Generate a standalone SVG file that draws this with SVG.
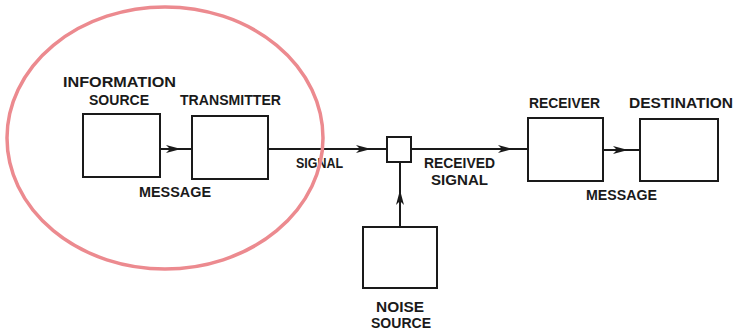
<svg xmlns="http://www.w3.org/2000/svg" width="737" height="331" viewBox="0 0 737 331">
<defs>
<style>
.box{fill:none;stroke:#1a1a1a;stroke-width:2}
.ln{fill:none;stroke:#1a1a1a;stroke-width:2}
.t{font-family:"Liberation Sans",Arial,sans-serif;font-weight:bold;font-size:14px;fill:#1a1a1a}
</style>
<marker id="ah" markerWidth="16" markerHeight="10" refX="15" refY="5" orient="auto" markerUnits="userSpaceOnUse">
<path d="M0,1 L15,5 L0,9 L4,5 Z" fill="#1a1a1a"/>
</marker>
</defs>
<rect width="737" height="331" fill="#ffffff"/>
<g id="connectors">
<line class="ln" x1="160" y1="149" x2="181" y2="149" marker-end="url(#ah)"/>
<line class="ln" x1="181" y1="149" x2="192" y2="149"/>
<line class="ln" x1="268" y1="149" x2="371" y2="149" marker-end="url(#ah)"/>
<line class="ln" x1="371" y1="149" x2="387" y2="149"/>
<line class="ln" x1="411" y1="149" x2="513" y2="149" marker-end="url(#ah)"/>
<line class="ln" x1="513" y1="149" x2="528" y2="149"/>
<line class="ln" x1="603" y1="150" x2="628" y2="150" marker-end="url(#ah)"/>
<line class="ln" x1="628" y1="150" x2="640" y2="150"/>
<line class="ln" x1="400" y1="227" x2="400" y2="190" marker-end="url(#ah)"/>
<line class="ln" x1="400" y1="190" x2="400" y2="162"/>
</g>
<g id="info-source">
<rect class="box" x="83" y="114" width="77" height="63"/>
<text class="t" x="63" y="87" textLength="113" lengthAdjust="spacingAndGlyphs">INFORMATION</text>
<text class="t" x="89" y="105" textLength="60" lengthAdjust="spacingAndGlyphs">SOURCE</text>
</g>
<g id="transmitter">
<rect class="box" x="192" y="116" width="76" height="63"/>
<text class="t" x="180" y="105" textLength="101" lengthAdjust="spacingAndGlyphs">TRANSMITTER</text>
</g>
<g id="mixer">
<rect class="box" x="387" y="137" width="24" height="25"/>
</g>
<g id="noise-source">
<rect class="box" x="363" y="227" width="74" height="61"/>
<text class="t" x="376" y="312" textLength="48" lengthAdjust="spacingAndGlyphs">NOISE</text>
<text class="t" x="371" y="328" textLength="60" lengthAdjust="spacingAndGlyphs">SOURCE</text>
</g>
<g id="receiver">
<rect class="box" x="528" y="118" width="75" height="63"/>
<text class="t" x="529" y="108" textLength="71" lengthAdjust="spacingAndGlyphs">RECEIVER</text>
</g>
<g id="destination">
<rect class="box" x="640" y="119" width="78" height="62"/>
<text class="t" x="629" y="108" textLength="104" lengthAdjust="spacingAndGlyphs">DESTINATION</text>
</g>
<g id="labels">
<text class="t" x="139" y="197" textLength="72" lengthAdjust="spacingAndGlyphs">MESSAGE</text>
<text class="t" x="296" y="168" textLength="47" lengthAdjust="spacingAndGlyphs">SIGNAL</text>
<text class="t" x="424" y="168" textLength="71" lengthAdjust="spacingAndGlyphs">RECEIVED</text>
<text class="t" x="431" y="185" textLength="57" lengthAdjust="spacingAndGlyphs">SIGNAL</text>
<text class="t" x="586" y="200" textLength="71" lengthAdjust="spacingAndGlyphs">MESSAGE</text>
</g>
<g id="highlight">
<ellipse cx="165" cy="138" rx="158" ry="131" fill="none" stroke="#ec8a8f" stroke-width="3.5"/>
</g>
</svg>
